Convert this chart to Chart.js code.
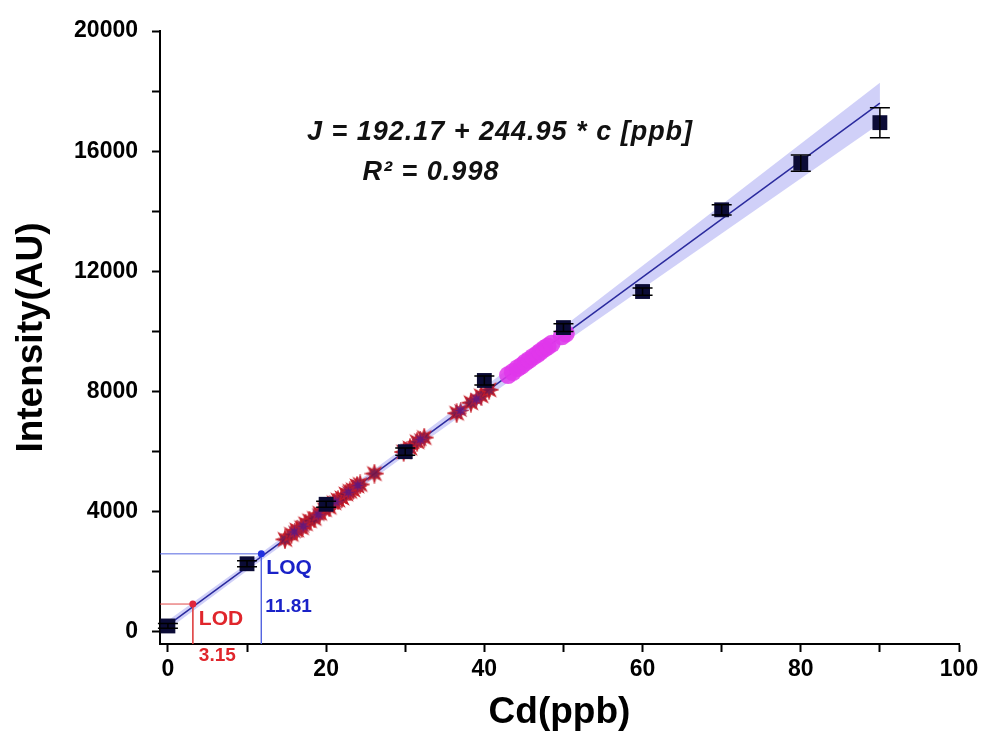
<!DOCTYPE html>
<html>
<head>
<meta charset="utf-8">
<script src="https://cdn.jsdelivr.net/npm/chart.js@4.4.1/dist/chart.umd.min.js"></script>
<style>
  body { margin: 0; background: #fff; }
  canvas { display: block; }
</style>
</head>
<body>
<canvas id="chart" width="983" height="742"></canvas>
<script>
// ===== DATA =====
// calibration standards (black squares + error bars)
const stdX = [0, 10, 20, 30, 40, 50, 60, 70, 80, 90];
const stdY = [200, 2270, 4250, 6000, 8370, 10130, 11330, 14050, 15600, 16950];
const stdErr = [80, 100, 100, 120, 150, 130, 120, 170, 270, 500];

// fitted line
const fitX = [0, 90];
const fitY = [230, 17600];

// confidence band
const bandX = [0, 10, 20, 30, 40, 50, 60, 70, 80, 90];
const bandLow = [80, 2040, 3950, 5870, 7750, 9600, 11430, 13260, 15090, 16920];
const bandHigh = [380, 2280, 4230, 6170, 8150, 10160, 12190, 14220, 16250, 18280];

// samples (stars)
const starX = [14.8, 15.6, 16.3, 16.9, 17.4, 17.9, 18.5, 19.2, 19.8, 20.4, 21.0, 21.5, 22.0, 22.5,
               23.0, 23.4, 23.9, 24.3, 26.1, 29.8, 30.6, 31.5, 32.4, 36.5, 38.3, 39.6, 40.6];
const starY = [3080, 3250, 3390, 3470, 3600, 3700, 3780, 3950, 4070, 4150, 4300, 4390, 4460, 4590,
               4680, 4730, 4860, 4910, 5270, 5990, 6120, 6330, 6470, 7280, 7630, 7860, 8060];
const star2X = [16.0, 17.1, 19.0, 21.2, 22.8, 24.0, 30.2, 31.9, 37.0, 39.0];
const star2Y = [3330, 3520, 3900, 4330, 4650, 4880, 6060, 6400, 7370, 7750];

// samples (magenta circles)
const circX = [43.0, 43.6, 44.2, 44.7, 45.2, 45.7, 46.2, 46.7, 47.1, 47.6, 48.0, 48.5, 49.8, 50.3];
const circY = [8550, 8650, 8780, 8860, 8970, 9060, 9160, 9250, 9330, 9430, 9500, 9590, 9840, 9930];

// LOD / LOQ
const lodX = 3.15, lodY = 930;
const loqX = 11.81, loqY = 2600;

// axes
const xTicks = [0, 10, 20, 30, 40, 50, 60, 70, 80, 90, 100];
const yTicks = [0, 2000, 4000, 6000, 8000, 10000, 12000, 14000, 16000, 18000, 20000];
const xMin = -1, xMax = 100, yMin = -400, yMax = 20000;

const pts = (xs, ys) => xs.map((v, i) => ({ x: v, y: ys[i] }));

// spiky star marker
function makeStar(size, fill, stroke) {
    const c = document.createElement('canvas');
    c.width = c.height = size;
    const g = c.getContext('2d');
    const r = size / 2, n = 8;
    g.beginPath();
    for (let i = 0; i < n * 2; i++) {
        const a = Math.PI * i / n;
        const rr = i % 2 === 0 ? r - 1 : r * 0.42;
        g.lineTo(r + rr * Math.cos(a), r + rr * Math.sin(a));
    }
    g.closePath();
    g.fillStyle = fill;
    g.fill();
    g.strokeStyle = stroke;
    g.lineWidth = 1.2;
    g.stroke();
    return c;
}
const redStar = makeStar(20, 'rgba(120,20,70,0.95)', 'rgba(200,30,40,0.95)');
const purpleStar = makeStar(17, 'rgba(95,25,130,0.85)', 'rgba(180,30,60,0.8)');

// ===== EXTRA DRAWING (error bars, labels) =====
const extras = {
    id: 'extras',
    afterDatasetsDraw(chart) {
        const { ctx, scales: { x, y } } = chart;
        ctx.save();

        // error bars
        ctx.strokeStyle = '#000';
        ctx.lineWidth = 1.5;
        stdX.forEach((v, i) => {
            const px = x.getPixelForValue(v);
            const top = y.getPixelForValue(stdY[i] + stdErr[i]);
            const bot = y.getPixelForValue(stdY[i] - stdErr[i]);
            ctx.beginPath();
            ctx.moveTo(px, top); ctx.lineTo(px, bot);
            ctx.moveTo(px - 10, top); ctx.lineTo(px + 10, top);
            ctx.moveTo(px - 10, bot); ctx.lineTo(px + 10, bot);
            ctx.stroke();
        });

        // LOD / LOQ labels
        ctx.textBaseline = 'middle';
        ctx.textAlign = 'left';
        ctx.font = 'bold 21px "Liberation Sans", Arial, sans-serif';
        ctx.fillStyle = '#e0262c';
        ctx.fillText('LOD', x.getPixelForValue(lodX) + 6, y.getPixelForValue(lodY) + 15);
        ctx.font = 'bold 19px "Liberation Sans", Arial, sans-serif';
        ctx.fillText('3.15', x.getPixelForValue(lodX) + 6, y.bottom + 12);
        ctx.fillStyle = '#1a22c8';
        ctx.font = 'bold 21px "Liberation Sans", Arial, sans-serif';
        ctx.fillText('LOQ', x.getPixelForValue(loqX) + 5, y.getPixelForValue(loqY) + 14);
        ctx.font = 'bold 19px "Liberation Sans", Arial, sans-serif';
        ctx.fillText('11.81', x.getPixelForValue(loqX) + 4, y.getPixelForValue(loqY) + 53);

        // equation
        ctx.fillStyle = '#111';
        ctx.textAlign = 'center';
        ctx.letterSpacing = '1px';
        ctx.font = 'italic bold 27px "Liberation Sans", Arial, sans-serif';
        ctx.fillText('J = 192.17 + 244.95 * c [ppb]', 500, 133);
        ctx.fillText('R\u00B2 = 0.998', 431, 173);

        ctx.restore();
    }
};

const tickFont = { family: '"Liberation Sans", Arial, sans-serif', size: 23, weight: 'bold' };
const titleFont = { family: '"Liberation Sans", Arial, sans-serif', size: 37, weight: 'bold' };

new Chart(document.getElementById('chart'), {
    type: 'scatter',
    data: {
        datasets: [
            {   // band lower edge
                data: pts(bandX, bandLow),
                showLine: true, pointRadius: 0, borderWidth: 0,
                borderColor: 'rgba(0,0,0,0)', fill: false, order: 10
            },
            {   // band upper edge, filled down to lower
                data: pts(bandX, bandHigh),
                showLine: true, pointRadius: 0, borderWidth: 0,
                borderColor: 'rgba(0,0,0,0)',
                backgroundColor: 'rgba(120,120,235,0.35)',
                fill: '-1', order: 9
            },
            {   // fit line
                data: pts(fitX, fitY),
                showLine: true, pointRadius: 0,
                borderColor: '#2b2b9e', borderWidth: 1.5, order: 8
            },
            {   // LOD guide
                data: [{ x: xMin, y: lodY }, { x: lodX, y: lodY }, { x: lodX, y: yMin }],
                showLine: true, pointRadius: 0,
                borderColor: '#e04848', borderWidth: 1, order: 7
            },
            {   // LOQ guide
                data: [{ x: xMin, y: loqY }, { x: loqX, y: loqY }, { x: loqX, y: yMin }],
                showLine: true, pointRadius: 0,
                borderColor: '#5566e0', borderWidth: 1, order: 7
            },
            {
                data: [{ x: lodX, y: lodY }],
                pointRadius: 3.5, backgroundColor: '#e0263c', borderWidth: 0, order: 6
            },
            {
                data: [{ x: loqX, y: loqY }],
                pointRadius: 3.5, backgroundColor: '#2030e0', borderWidth: 0, order: 6
            },
            {   // stars (red)
                data: pts(starX, starY),
                pointStyle: redStar, pointRadius: 10, order: 5
            },
            {   // stars (purple)
                data: pts(star2X, star2Y),
                pointStyle: purpleStar, pointRadius: 9, order: 4
            },
            {   // magenta circles
                data: pts(circX, circY),
                pointStyle: 'circle', pointRadius: 9, borderWidth: 0,
                backgroundColor: 'rgba(225,55,235,0.85)', order: 3
            },
            {   // standards
                data: pts(stdX, stdY),
                pointStyle: 'rect', pointRadius: 10.5, borderWidth: 0,
                backgroundColor: '#0b0b36', order: 2
            }
        ]
    },
    options: {
        responsive: false,
        animation: false,
        layout: { padding: { top: 31, right: 24, left: 0, bottom: 0 } },
        plugins: { legend: { display: false }, tooltip: { enabled: false } },
        scales: {
            x: {
                type: 'linear', min: xMin, max: xMax,
                afterBuildTicks: s => { s.ticks = xTicks.map(v => ({ value: v })); },
                afterFit: s => { s.height = 98; },
                grid: { drawOnChartArea: false, tickLength: 8, tickWidth: 2, tickColor: '#000' },
                border: { color: '#000', width: 2 },
                ticks: {
                    color: '#000', font: tickFont, padding: 4, maxRotation: 0,
                    callback: v => (v % 20 === 0 ? v : '')
                },
                title: { display: true, text: 'Cd(ppb)', color: '#000', font: titleFont, padding: { bottom: 7 } }
            },
            y: {
                type: 'linear', min: yMin, max: yMax,
                afterBuildTicks: s => { s.ticks = yTicks.map(v => ({ value: v })); },
                afterFit: s => { s.width = 160; },
                grid: { drawOnChartArea: false, tickLength: 8, tickWidth: 2, tickColor: '#000' },
                border: { color: '#000', width: 2 },
                ticks: {
                    color: '#000', font: tickFont, padding: 14,
                    callback: v => (v % 4000 === 0 ? v : '')
                },
                title: { display: true, text: 'Intensity(AU)', color: '#000', font: titleFont, padding: { top: 10 } }
            }
        }
    },
    plugins: [extras]
});
</script>
</body>
</html>
